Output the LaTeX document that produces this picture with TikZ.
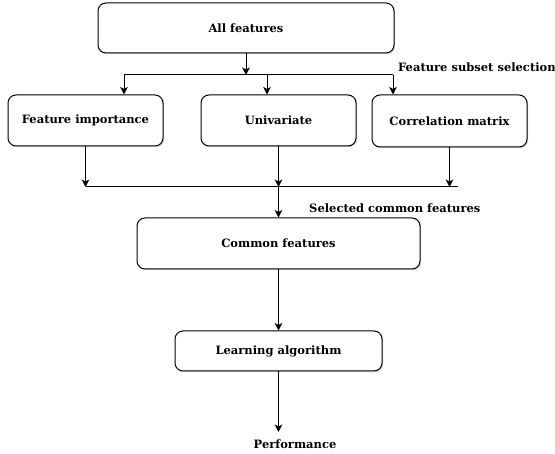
\documentclass[tikz,border=0pt]{standalone}
\usepackage{fontspec}
\setmainfont{DejaVu Serif}
\usetikzlibrary{arrows.meta,shadows}
\begin{document}
\begin{tikzpicture}[x=1pt,y=-1pt,
  box/.style={draw=black, line width=1pt, rounded corners=8pt, fill=white,
    drop shadow={opacity=0.35, shadow xshift=1.2pt, shadow yshift=-1.2pt, fill=gray},
    font=\bfseries\fontsize{11.5}{13}\selectfont, inner sep=0pt, align=center},
  lbl/.style={font=\bfseries\fontsize{11.5}{13}\selectfont, inner sep=0pt},
  conn/.style={line width=1pt},
  arr/.style={conn, -{Stealth[length=7.5pt,width=7.5pt,inset=2pt]}}]
\useasboundingbox[fill=white] (0,0) rectangle (555,454);
% boxes
\node[box, minimum width=296pt, minimum height=50pt] (all) at (246,28) {All features};
\node[box, minimum width=155pt, minimum height=51pt] (fi) at (85.5,120.5) {Feature importance};
\node[box, minimum width=155pt, minimum height=51pt] (uni) at (278.5,120.5) {Univariate};
\node[box, minimum width=155pt, minimum height=52pt] (cor) at (449.5,121) {Correlation matrix};
\node[box, minimum width=283pt, minimum height=51pt] (com) at (278.5,243.5) {Common features};
\node[box, minimum width=207pt, minimum height=40pt] (lea) at (278.5,351) {Learning algorithm};
% labels
\node[lbl, anchor=west] (fss) at (398,67) {Feature subset selection};
\node[lbl, anchor=west] (scf) at (309,208) {Selected common features};
\node[lbl] (perf) at (295,444) {Performance};
% top bus
\coordinate (t0) at (246,75);
\coordinate (tl) at (124,75);
\coordinate (tm) at (267,75);
\coordinate (tr) at (393,75);
\draw[arr] (all.south) -- (t0);
\draw[conn] (tl) -- (tr);
\draw[arr] (tl) -- (fi.north -| tl);
\draw[arr] (tm) -- (uni.north -| tm);
\draw[arr] (tr) -- (cor.north -| tr);
% bottom bus
\coordinate (bl) at (85.5,187);
\coordinate (bm) at (278.5,187);
\coordinate (br) at (449.5,187);
\coordinate (be) at (458,187);
\draw[conn] (bl) -- (be);
\draw[arr] (fi.south) -- (bl);
\draw[arr] (uni.south) -- (bm);
\draw[arr] (cor.south) -- (br);
\draw[arr] (bm) -- (com.north);
\draw[arr] (com.south) -- (lea.north);
\coordinate (pe) at (278.5,432);
\draw[arr] (lea.south) -- (pe);
\end{tikzpicture}
\end{document}
